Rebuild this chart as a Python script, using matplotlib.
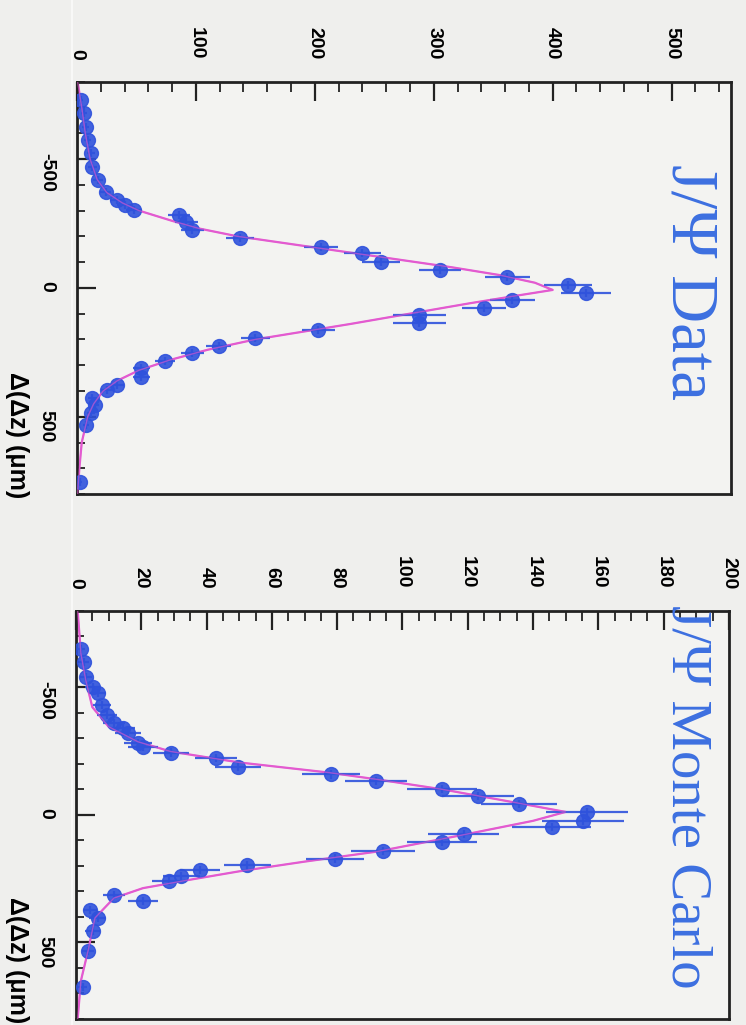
#===========================================
# J/psi delta(delta z) distributions, data vs Monte Carlo
# drawn the way the page shows it: turned a quarter turn clockwise,
# so counts run left->right and delta(delta z) runs top->bottom
#===========================================
import numpy as np
import matplotlib.pyplot as plt
from matplotlib.ticker import MultipleLocator
from matplotlib.lines import Line2D

#===========================================
# Data panel
data_dz = [-730, -680, -625, -575, -524, -470, -419, -373, -342, -322,
           -303, -283, -256, -225, -194, -159, -136, -101, -70, -43,
           -11, 19, 47, 78, 105, 136, 163, 194, 225, 252,
           283, 311, 346, 377, 396, 427, 454, 485, 532, 754]
data_n = [3, 6, 7.5, 9, 12, 13, 18, 24, 34, 40,
          48, 86, 92, 97, 137, 205, 240, 256, 305, 362,
          413, 428, 366, 342, 288, 288, 203, 150, 119, 97,
          74, 54, 54, 34, 25, 13, 15, 12, 7.5, 2.5]
data_err = [2, 2.5, 3, 3, 3.5, 3.6, 4.2, 5, 6, 6.3,
            7, 9.3, 9.6, 9.8, 11.7, 14.3, 15.5, 16, 17.5, 19,
            20.3, 20.7, 19.1, 18.5, 22, 22, 14.2, 12.2, 10.9, 9.8,
            8.6, 7.3, 7.3, 5.8, 5, 3.6, 3.9, 3.5, 2.7, 1.6]
data_fit_dz = [-800, -700, -600, -500, -420, -370, -330, -300, -260, -230,
               -200, -160, -120, -80, -50, -20, 8, 30, 60, 100,
               140, 170, 200, 240, 280, 320, 360, 400, 450, 500,
               600, 700, 800]
data_fit_n = [0.5, 4, 7, 11, 17, 25, 38, 52, 80, 103,
              135, 195, 255, 315, 355, 385, 400, 370, 330, 280,
              230, 190, 150, 110, 78, 52, 34, 22, 14, 9,
              4, 2, 0.5]

# Monte Carlo panel
mc_dz = [-650, -600, -540, -501, -478, -431, -392, -361, -342, -322,
         -283, -268, -245, -225, -190, -159, -132, -101, -74, -43,
         -12, 23, 47, 74, 105, 140, 171, 198, 217, 241,
         260, 315, 338, 373, 404, 454, 532, 676]
mc_n = [1.5, 2.5, 3.1, 5.2, 6.7, 8.0, 9.5, 11.6, 14.4, 15.9,
        19.0, 20.5, 29.1, 42.9, 49.6, 78.1, 91.9, 112.1, 123.1, 135.7,
        156.5, 155.3, 145.8, 118.8, 112.1, 94.0, 79.3, 52.4, 38.0, 32.2,
        28.5, 11.6, 20.5, 4.3, 6.7, 5.2, 3.7, 2.1]
mc_err = [1.2, 1.6, 1.8, 2.3, 2.6, 2.8, 3.1, 3.4, 3.8, 4,
          4.4, 4.5, 5.4, 6.5, 7, 8.8, 9.6, 10.6, 11.1, 11.6,
          12.5, 12.5, 12.1, 10.9, 10.6, 9.7, 8.9, 7.2, 6.2, 5.7,
          5.3, 3.4, 4.5, 2.1, 2.6, 2.3, 1.9, 1.4]
mc_fit_dz = [-800, -633, -528, -423, -346, -287, -249, -206, -167, -140,
             -101, -50, -12, 23, 82, 144, 183, 221, 256, 287,
             326, 404, 532, 650, 800]
mc_fit_n = [0.5, 1.5, 3, 5, 10, 19, 29, 50, 77, 92,
            112, 134, 150, 140, 117, 92, 70, 50, 34, 20.5,
            11.6, 5.8, 3.7, 1.5, 0.5]

titles = ["J/\u03a8 Data", "J/\u03a8 Monte Carlo"]
xtitle = "\u0394(\u0394z) (\u03bcm)"

BG = '#efefed'
BLUE = '#2f52dc'
PINK = '#e35ad0'
TBLUE = '#3c6fe0'

plt.rcParams['axes.unicode_minus'] = False

#===========================================
# one panel
def draw_panel(ax, dz, n, err, fdz, fn, nmax, major, minor, title, tx, ty, tsize):
    ax.set_facecolor('#f3f3f1')
    ax.plot(fn, fdz, color=PINK, lw=1.6, zorder=2)
    ax.errorbar(n, dz, xerr=err, yerr=16, fmt='o', color=BLUE, ms=10,
                elinewidth=1.6, capsize=0, alpha=0.9, zorder=3)
    ax.plot(fn, fdz, color=PINK, lw=1.0, alpha=0.6, zorder=4)
    ax.set_xlim(0, nmax)
    ax.set_ylim(800, -800)
    for s in ax.spines.values():
        s.set_linewidth(2)
        s.set_color('#222222')
    ax.xaxis.tick_top()
    ax.xaxis.set_major_locator(MultipleLocator(major))
    ax.xaxis.set_minor_locator(MultipleLocator(minor))
    ax.yaxis.set_major_locator(MultipleLocator(500))
    ax.yaxis.set_minor_locator(MultipleLocator(100))
    ax.tick_params(axis='both', which='both', direction='in', color='#222222')
    ax.tick_params(axis='x', which='major', length=14, width=1.6, pad=16,
                   labelrotation=-90)
    ax.tick_params(axis='x', which='minor', length=7, width=1.3)
    ax.tick_params(axis='y', which='major', length=14, width=1.6, pad=16,
                   labelrotation=-90)
    ax.tick_params(axis='y', which='minor', length=6, width=1.3)
    for lab in ax.get_xticklabels() + ax.get_yticklabels():
        lab.set_fontfamily('Liberation Sans')
        lab.set_fontweight('bold')
        lab.set_fontsize(14)
    ax.text(tx, ty, title, transform=ax.transAxes, rotation=-90,
            ha='center', va='top', color=TBLUE, fontsize=tsize,
            family='Liberation Serif', clip_on=False)

#===========================================
def main():
    fig = plt.figure(figsize=(7.46, 10.25), dpi=100, facecolor=BG)

    ax1 = fig.add_axes([0.1032, 0.518, 0.8768, 0.4023])
    draw_panel(ax1, data_dz, data_n, data_err, data_fit_dz, data_fit_n,
               550, 100, 20, titles[0], 0.935, 0.80, 48)

    ax2 = fig.add_axes([0.1019, 0.0059, 0.8751, 0.3980])
    draw_panel(ax2, mc_dz, mc_n, mc_err, mc_fit_dz, mc_fit_n,
               200, 20, 5, titles[1], 0.935, 1.015, 41)

    # axis titles along the left edge
    for ybot in [1 - 498 / 1025, 1 - 1023 / 1025]:
        fig.text(0.023, ybot, xtitle, rotation=-90, ha='center', va='bottom',
                 fontsize=18, fontweight='bold', family='Liberation Sans')

    # faint scan line down the page
    fig.add_artist(Line2D([0.097, 0.097], [0, 1], color='white', lw=1.2,
                          alpha=0.7, transform=fig.transFigure))

    fig.savefig('out.png', dpi=100, facecolor=BG)

main()
